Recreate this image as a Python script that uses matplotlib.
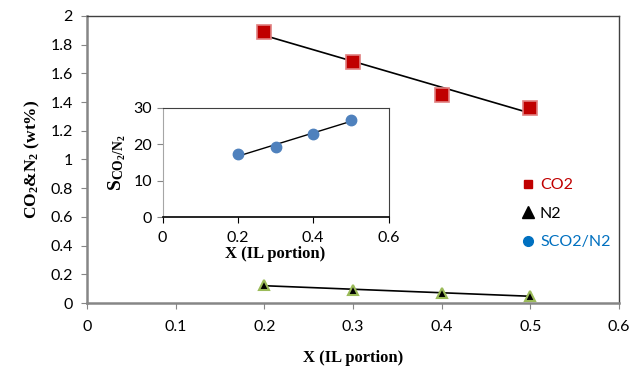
import numpy as np
import matplotlib as mpl
import matplotlib.pyplot as plt
from matplotlib.lines import Line2D

mpl.rcParams['font.family'] = 'Lato'
mpl.rcParams['font.size'] = 11.5
mpl.rcParams['mathtext.fontset'] = 'custom'
mpl.rcParams['mathtext.rm'] = 'Liberation Serif:bold'
mpl.rcParams['mathtext.bf'] = 'Liberation Serif:bold'
mpl.rcParams['mathtext.it'] = 'Liberation Serif:bold'

# IL portion
x_il = [0.2, 0.3, 0.4, 0.5]
# gas uptake (wt%)
co2_wt = [1.885, 1.68, 1.45, 1.36]
n2_wt = [0.125, 0.09, 0.07, 0.05]
# selectivity CO2/N2
s_co2_n2 = [17.2, 19.3, 22.7, 26.7]

serif = dict(family='Liberation Serif', weight='bold')

fig = plt.figure(figsize=(6.3, 3.68), dpi=100)
ax = fig.add_axes([0.138, 0.1766, 0.8445, 0.78])

xs = np.array(x_il)
# linear trendlines
for yy in (co2_wt, n2_wt):
    p = np.polyfit(xs, yy, 1)
    ax.plot(xs, np.polyval(p, xs), color='black', lw=1.2, zorder=2)

ax.plot(x_il, co2_wt, ls='none', marker='s', ms=10, mfc='#C00000',
        mec='#E08080', mew=1.2, zorder=3)
ax.plot(x_il, n2_wt, ls='none', marker='^', ms=7, mfc='black',
        mec='#9BBB59', mew=1.5, zorder=3)

ax.set_xlim(0, 0.6)
ax.set_ylim(0, 2)
ax.set_xticks(np.arange(0, 0.61, 0.1))
ax.set_xticklabels(['0', '0.1', '0.2', '0.3', '0.4', '0.5', '0.6'])
ax.set_yticks(np.arange(0, 2.01, 0.2))
ax.set_yticklabels(['0', '0.2', '0.4', '0.6', '0.8', '1', '1.2', '1.4',
                    '1.6', '1.8', '2'])
ax.tick_params(direction='out', length=4, color='#868686', pad=8)
ax.tick_params(axis='y', pad=6)
for side in ('left', 'bottom'):
    ax.spines[side].set_color('#868686')
    ax.spines[side].set_linewidth(1.8)
for side in ('top', 'right'):
    ax.spines[side].set_color('#404040')
    ax.spines[side].set_linewidth(1.0)

ax.set_xlabel('X (IL portion)', fontsize=12, labelpad=12, **serif)
ax.set_ylabel(r'CO$_2$&N$_2$ (wt%)', fontsize=12.5, labelpad=6, **serif)

handles = [
    Line2D([], [], ls='none', marker='s', ms=6, mfc='#C00000', mec='#C00000'),
    Line2D([], [], ls='none', marker='^', ms=8, mfc='black', mec='black'),
    Line2D([], [], ls='none', marker='o', ms=7, mfc='#0070C0', mec='#0070C0'),
]
ax.legend(handles, ['CO2', 'N2', 'SCO2/N2'], loc='upper left',
          bbox_to_anchor=(0.79, 0.485), frameon=False, fontsize=11.5,
          labelcolor=['#C00000', 'black', '#0070C0'], handlelength=0.8,
          handletextpad=0.35, labelspacing=0.9)

# inset: selectivity
axi = fig.add_axes([0.258, 0.4103, 0.3587, 0.297])
p = np.polyfit(xs, s_co2_n2, 1)
axi.plot(xs, np.polyval(p, xs), color='black', lw=1.0, zorder=2)
axi.plot(x_il, s_co2_n2, ls='none', marker='o', ms=7.5, mfc='#4F81BD',
         mec='#4F81BD', zorder=3)
axi.set_xlim(0, 0.6)
axi.set_ylim(0, 30)
axi.set_xticks([0, 0.2, 0.4, 0.6])
axi.set_xticklabels(['0', '0.2', '0.4', '0.6'])
axi.set_yticks([0, 10, 20, 30])
axi.tick_params(direction='out', length=4, color='#868686', labelsize=11.5)
axi.tick_params(axis='x', color='black', pad=6)
axi.spines['left'].set_color('#A6A6A6')
axi.spines['bottom'].set_color('black')
axi.spines['bottom'].set_linewidth(1.2)
for side in ('top', 'right'):
    axi.spines[side].set_color('#404040')
axi.set_xlabel('X (IL portion)', fontsize=12, labelpad=1, **serif)
axi.set_ylabel(r'S$_{\mathrm{CO_2/N_2}}$', fontsize=14, labelpad=4, **serif)

fig.savefig('out.png', dpi=100)
